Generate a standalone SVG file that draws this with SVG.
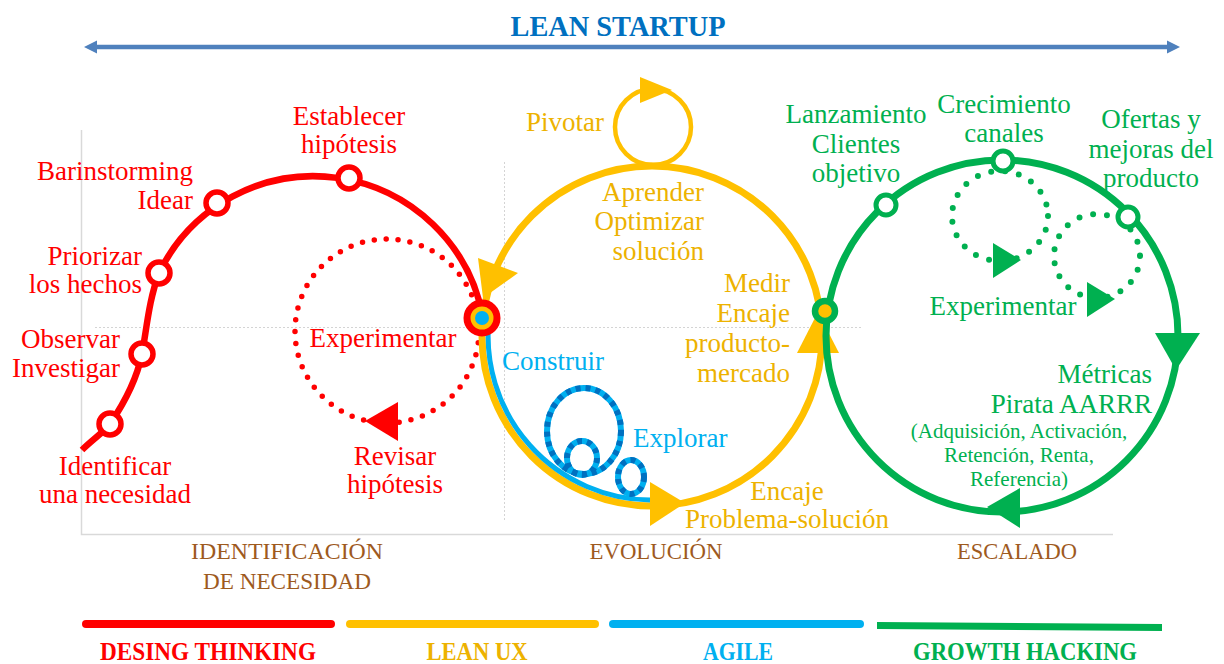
<svg xmlns="http://www.w3.org/2000/svg" width="1224" height="664" viewBox="0 0 1224 664">
<defs>
<style>
text { font-family: "Liberation Serif", "Times New Roman", serif; font-size: 27px; }
.r { fill: #FF0000; }
.y { fill: #EDB200; }
.b { fill: #00B0F0; }
.g { fill: #00B050; }
.br { fill: #9E5A1E; font-size: 24px; }
.lbl { font-weight: bold; font-size: 25px; }
.sm { font-size: 21px; }
.mid { text-anchor: middle; }
.end { text-anchor: end; }
.node-r { fill: #FFFFFF; stroke: #FF0000; stroke-width: 5.5; }
.node-g { fill: #FFFFFF; stroke: #00B050; stroke-width: 5; }
.dots { fill: none; stroke-linecap: round; }
</style>
</defs>
<rect width="1224" height="664" fill="#FFFFFF"/>

<g id="title">
<text x="618" y="36" class="mid" style="font-weight:bold;font-size:30px;fill:#0070C0" textLength="215" lengthAdjust="spacingAndGlyphs">LEAN STARTUP</text>
<line x1="94" y1="47" x2="1170" y2="47" stroke="#4F81BD" stroke-width="4.5"/>
<polygon points="84,47 97,40.5 97,53.5" fill="#4F81BD"/>
<polygon points="1180,47 1167,40.5 1167,53.5" fill="#4F81BD"/>
</g>

<g id="frame" fill="none">
<polyline points="81.5,130 81.5,534.5 1113,534.5" stroke="#D9D9D9" stroke-width="1.5"/>
<line x1="95" y1="327.5" x2="862" y2="327.5" stroke="#D4D4D4" stroke-width="1" stroke-dasharray="2 2"/>
<line x1="504.5" y1="162" x2="504.5" y2="522" stroke="#D4D4D4" stroke-width="1" stroke-dasharray="2 2"/>
</g>

<g id="connectors">
<path d="M 82 450 C 92 440 104 432 110 424 C 125 402 137 378 142 354 C 147 326 149 300 159 273 A 172 172 0 0 1 483 318" fill="none" stroke="#FF0000" stroke-width="6.5"/>
<circle cx="387" cy="331" r="92" class="dots" stroke="#FF0000" stroke-width="5.5" stroke-dasharray="0 12"/>
<polygon points="365,421 398,402 398,441" fill="#FF0000"/>
<circle cx="652" cy="336" r="170" fill="none" stroke="#FFC000" stroke-width="7"/>
<circle cx="653" cy="127" r="38" fill="none" stroke="#FFC000" stroke-width="4.5"/>
<polygon points="640,77 640,103 672,90" fill="#FFC000"/>
<polygon points="478,258 518,273 483,298" fill="#FFC000"/>
<polygon points="797,353 839,353 818,312" fill="#FFC000"/>
<polygon points="650,482 650,526 685,503" fill="#FFC000"/>
<path d="M 489 319 A 164 164 0 0 0 650 500" fill="none" stroke="#00B0F0" stroke-width="5"/>
<g fill="none" stroke-width="6">
<ellipse cx="584" cy="431" rx="37" ry="43" stroke="#00B0F0"/>
<ellipse cx="582" cy="458" rx="15" ry="17" stroke="#00B0F0"/>
<ellipse cx="631" cy="477" rx="13" ry="17" stroke="#00B0F0"/>
<ellipse cx="584" cy="431" rx="37" ry="43" stroke="#0070C0" stroke-dasharray="5 5"/>
<ellipse cx="582" cy="458" rx="15" ry="17" stroke="#0070C0" stroke-dasharray="5 5"/>
<ellipse cx="631" cy="477" rx="13" ry="17" stroke="#0070C0" stroke-dasharray="5 5"/>
</g>
<circle cx="1002" cy="336" r="176" fill="none" stroke="#00B050" stroke-width="7"/>
<polygon points="1155,333 1200,333 1176,370" fill="#00B050"/>
<polygon points="987,507 1020,488 1020,528" fill="#00B050"/>
<ellipse cx="1000" cy="216" rx="48" ry="45" class="dots" stroke="#00B050" stroke-width="6" stroke-dasharray="0 14"/>
<ellipse cx="1097" cy="256" rx="43" ry="42" class="dots" stroke="#00B050" stroke-width="6" stroke-dasharray="0 14"/>
<polygon points="993,243 993,278 1021,260" fill="#00B050"/>
<polygon points="1087,282 1087,317 1115,299" fill="#00B050"/>
</g>

<g id="node-identificar"><circle cx="110" cy="424" r="11" class="node-r"/>
<text x="115" y="475" class="r mid">Identificar</text><text x="115" y="503" class="r mid">una necesidad</text></g>
<g id="node-observar"><circle cx="142" cy="354" r="11" class="node-r"/>
<text x="120" y="348" class="r end">Observar</text><text x="120" y="377" class="r end">Investigar</text></g>
<g id="node-priorizar"><circle cx="159" cy="273" r="11" class="node-r"/>
<text x="142" y="265" class="r end">Priorizar</text><text x="142" y="293" class="r end">los hechos</text></g>
<g id="node-idear"><circle cx="217" cy="203" r="11" class="node-r"/>
<text x="193" y="180" class="r end">Barinstorming</text><text x="193" y="209" class="r end">Idear</text></g>
<g id="node-hipotesis"><circle cx="349" cy="178" r="11" class="node-r"/>
<text x="349" y="125" class="r mid">Establecer</text><text x="349" y="153" class="r mid">hipótesis</text></g>
<g id="label-experimentar-red"><text x="383" y="347" class="r mid">Experimentar</text></g>
<g id="label-revisar"><text x="395" y="465" class="r mid">Revisar</text><text x="395" y="493" class="r mid">hipótesis</text></g>

<g id="node-junction-1">
<circle cx="482" cy="318" r="15" fill="#FFC000" stroke="#FF0000" stroke-width="7"/>
<circle cx="482" cy="318" r="7" fill="#00B0F0"/>
</g>

<g id="label-pivotar"><text x="526" y="131" class="y">Pivotar</text></g>
<g id="label-aprender"><text x="704" y="201" class="y end">Aprender</text><text x="704" y="230" class="y end">Optimizar</text><text x="704" y="260" class="y end">solución</text></g>
<g id="label-medir"><text x="790" y="292" class="y end">Medir</text><text x="790" y="322" class="y end">Encaje</text><text x="790" y="352" class="y end">producto-</text><text x="790" y="382" class="y end">mercado</text></g>
<g id="label-encaje-ps"><text x="787" y="500" class="y mid">Encaje</text><text x="787" y="528" class="y mid">Problema-solución</text></g>
<g id="label-construir"><text x="502" y="370" class="b">Construir</text></g>
<g id="label-explorar"><text x="633" y="447" class="b">Explorar</text></g>

<g id="node-junction-2">
<circle cx="825" cy="311" r="10" fill="#FFC000" stroke="#00B050" stroke-width="6.5"/>
</g>
<g id="node-lanzamiento"><circle cx="886" cy="205" r="10" class="node-g"/>
<text x="856" y="123" class="g mid">Lanzamiento</text><text x="856" y="153" class="g mid">Clientes</text><text x="856" y="182" class="g mid">objetivo</text></g>
<g id="node-crecimiento"><circle cx="1003" cy="161" r="10" class="node-g"/>
<text x="1004" y="113" class="g mid">Crecimiento</text><text x="1004" y="142" class="g mid">canales</text></g>
<g id="node-ofertas"><circle cx="1128" cy="217" r="10" class="node-g"/>
<text x="1151" y="128" class="g mid">Ofertas y</text><text x="1151" y="158" class="g mid">mejoras del</text><text x="1151" y="187" class="g mid">producto</text></g>
<g id="label-experimentar-green"><text x="1003" y="315" class="g mid">Experimentar</text></g>
<g id="label-metricas"><text x="1152" y="383" class="g end">Métricas</text><text x="1152" y="413" class="g end">Pirata AARRR</text>
<text x="1019" y="438" class="g mid sm">(Adquisición, Activación,</text>
<text x="1019" y="462" class="g mid sm">Retención, Renta,</text>
<text x="1019" y="486" class="g mid sm">Referencia)</text></g>

<g id="phases">
<text x="287" y="559" class="br mid" textLength="192" lengthAdjust="spacingAndGlyphs">IDENTIFICACIÓN</text>
<text x="287" y="589" class="br mid" textLength="168" lengthAdjust="spacingAndGlyphs">DE NECESIDAD</text>
<text x="656" y="559" class="br mid" textLength="133" lengthAdjust="spacingAndGlyphs">EVOLUCIÓN</text>
<text x="1017" y="559" class="br mid" textLength="120" lengthAdjust="spacingAndGlyphs">ESCALADO</text>
</g>

<g id="legend">
<line x1="86" y1="624" x2="331" y2="624" stroke="#FF0000" stroke-width="8" stroke-linecap="round"/>
<line x1="350" y1="624" x2="595" y2="624" stroke="#FFC000" stroke-width="8" stroke-linecap="round"/>
<line x1="613" y1="624" x2="860" y2="624" stroke="#00B0F0" stroke-width="8" stroke-linecap="round"/>
<polygon points="877,622 1162,624 1162,631 877,629" fill="#00B050"/>
<text x="208" y="660" class="lbl mid" fill="#FF0000" textLength="216" lengthAdjust="spacingAndGlyphs">DESING THINKING</text>
<text x="477" y="660" class="lbl mid" fill="#EDB200" textLength="101" lengthAdjust="spacingAndGlyphs">LEAN UX</text>
<text x="738" y="660" class="lbl mid" fill="#00B0F0" textLength="70" lengthAdjust="spacingAndGlyphs">AGILE</text>
<text x="1025" y="660" class="lbl mid" fill="#00B050" textLength="224" lengthAdjust="spacingAndGlyphs">GROWTH HACKING</text>
</g>
</svg>
